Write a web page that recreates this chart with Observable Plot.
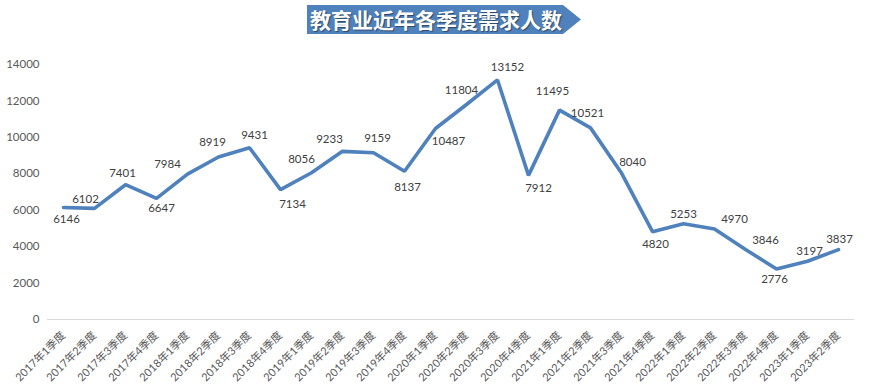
<!DOCTYPE html>
<html>
<head>
<meta charset="utf-8">
<script src="https://cdn.jsdelivr.net/npm/d3@7"></script>
<script src="https://cdn.jsdelivr.net/npm/@observablehq/plot@0.6"></script>
<style>
  html, body { margin: 0; padding: 0; background: #fff; }
  #wrap { width: 871px; }
  #titlebar { position: relative; height: 40px; }
  #banner {
    position: absolute; left: 307px; top: 5px; width: 274px; height: 29px;
    background: #4F81BD;
    clip-path: polygon(0 0, calc(100% - 18px) 0, 100% 50%, calc(100% - 18px) 100%, 0 100%);
    color: #fff; font-family: "Noto Sans CJK SC", sans-serif; font-weight: 700;
    font-size: 21px; line-height: 29px; padding-left: 3px; box-sizing: border-box;
    text-shadow: 1px 1px 1px rgba(0,0,0,0.45); letter-spacing: 0px; white-space: nowrap;
  }
</style>
</head>
<body>
<div id="wrap">
  <div id="titlebar"><div id="banner">教育业近年各季度需求人数</div></div>
  <div id="chart"></div>
</div>
<script>
const quarters = [
  "2017年1季度","2017年2季度","2017年3季度","2017年4季度",
  "2018年1季度","2018年2季度","2018年3季度","2018年4季度",
  "2019年1季度","2019年2季度","2019年3季度","2019年4季度",
  "2020年1季度","2020年2季度","2020年3季度","2020年4季度",
  "2021年1季度","2021年2季度","2021年3季度","2021年4季度",
  "2022年1季度","2022年2季度","2022年3季度","2022年4季度",
  "2023年1季度","2023年2季度"
];
const demand = [
  6146, 6102, 7401, 6647, 7984, 8919, 9431, 7134,
  8056, 9233, 9159, 8137, 10487, 11804, 13152, 7912,
  11495, 10521, 8040, 4820, 5253, 4970, 3846, 2776,
  3197, 3837
];
const yTicks = [0, 2000, 4000, 6000, 8000, 10000, 12000, 14000];

// label placement offsets (style only), pixels [dx, dy] relative to each point
const labelOffsets = [
  [3, 12], [-9, -9], [-3, -11], [5, 10], [-20, -10], [-6, -15], [5, -12], [12, 15],
  [-10, -13], [-13, -12], [4, -14], [3, 16], [13, 13], [-5, -14], [10, -13], [10, 13],
  [-7, -19], [-3, -15], [11, -11], [3, 13], [0, -10], [20, -10], [20, -9], [-2, 10],
  [2, -10], [1, -10]
];

const data = quarters.map((q, i) => ({ q, v: demand[i], i }));
const font = "Lato, 'Noto Sans CJK SC', sans-serif";

const labelMarks = data.map((d, i) =>
  Plot.text([d], {
    x: "q", y: "v", text: (e) => String(e.v),
    dx: labelOffsets[i][0], dy: labelOffsets[i][1],
    fill: "#404040", fontSize: 11.5
  })
);

const chart = Plot.plot({
  width: 871,
  height: 351,
  marginLeft: 47,
  marginRight: 17,
  marginTop: 24,
  marginBottom: 72,
  style: { fontFamily: font, background: "#fff", overflow: "visible" },
  x: { type: "point", domain: quarters, padding: 0.5, label: null },
  y: { domain: [0, 14000], ticks: yTicks, label: null },
  marks: [
    Plot.ruleY([0], { stroke: "#d9d9d9", strokeWidth: 1 }),
    Plot.axisY({ ticks: yTicks, tickSize: 0, tickPadding: 8, fontSize: 11.5, color: "#595959", tickFormat: (d) => String(d), label: null }),
    Plot.axisX({ tickRotate: -45, tickSize: 0, tickPadding: 14, fontSize: 11, color: "#595959", label: null }),
    Plot.line(data, { x: "q", y: "v", stroke: "#4F81BD", strokeWidth: 3.6, strokeLinejoin: "miter", strokeLinecap: "round" }),
    ...labelMarks
  ]
});
document.getElementById("chart").appendChild(chart);
</script>
</body>
</html>
